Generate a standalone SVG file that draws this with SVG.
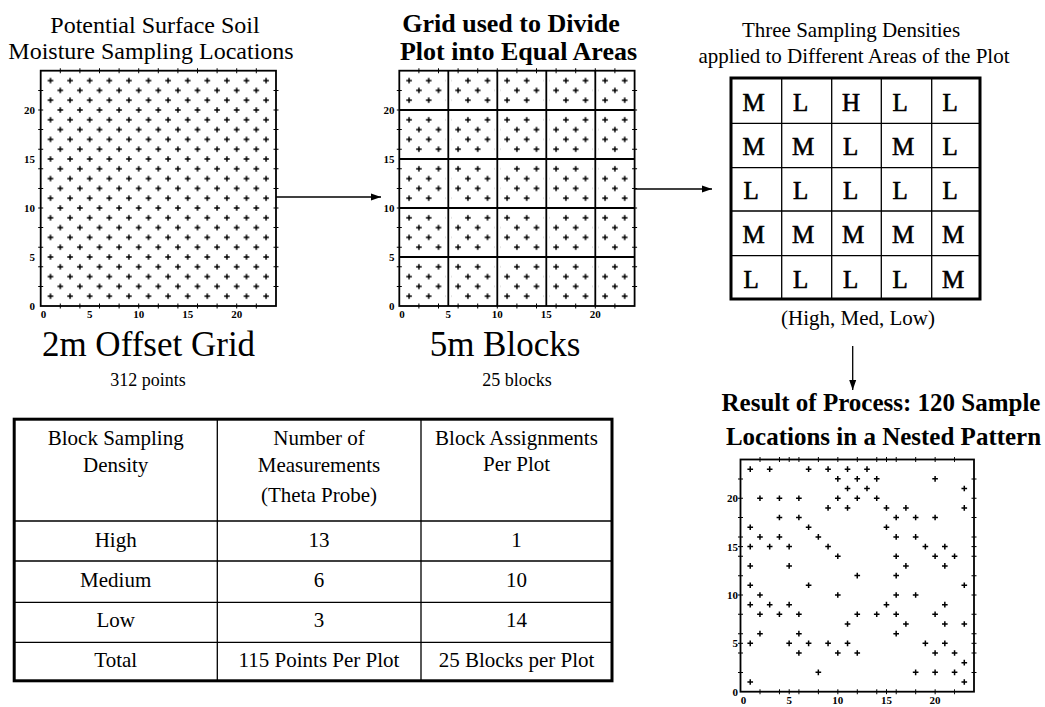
<svg xmlns="http://www.w3.org/2000/svg" xmlns:xlink="http://www.w3.org/1999/xlink" width="1045" height="707" viewBox="0 0 1045 707">
<style>
text{font-family:"Liberation Serif","Times New Roman",serif;fill:#000}
.ax{font-family:"Liberation Sans",Arial,sans-serif;font-size:11px;font-weight:bold}
.t24{font-size:24px}
.t21{font-size:21px}
.b26{font-size:26px;font-weight:bold}
.b25{font-size:25px;font-weight:bold}
.cap{font-size:35px}
.sub{font-size:18px}
.lt{font-size:25px;stroke:#000;stroke-width:.6}
.frame{fill:none;stroke:#000;stroke-width:1.8}
.tk{fill:none;stroke:#000;stroke-width:5;stroke-dasharray:1 18.6}
.tkx{fill:none;stroke:#000;stroke-width:5;stroke-dasharray:1 18.46}
.tky{fill:none;stroke:#000;stroke-width:5;stroke-dasharray:1 18.35}
.tk1{fill:none;stroke:#000;stroke-width:1}
.pt{fill:none;stroke:#000;stroke-width:1.5}
.blk{fill:none;stroke:#000;stroke-width:1.8}
.halo{fill:none;stroke:#fff;stroke-width:6}
.cell{fill:none;stroke:#000;stroke-width:1.3}
.outer{fill:none;stroke:#000;stroke-width:3}
.conn{fill:none;stroke:#000;stroke-width:1.3}
</style>
<defs>
<pattern id="g1" patternUnits="userSpaceOnUse" x="35.8" y="301.1" width="19.6" height="19.6"><path class="pt" d="M2.1 4.9h5.6M4.9 2.1v5.6M11.9 14.7h5.6M14.7 11.9v5.6"/></pattern>
<pattern id="g2" patternUnits="userSpaceOnUse" x="394.4" y="301.1" width="19.6" height="19.6"><path class="pt" d="M2.1 4.9h5.6M4.9 2.1v5.6M11.9 14.7h5.6M14.7 11.9v5.6"/></pattern>
<path id="c3" d="M-.29 0H.29M0-.29V.29" fill="none" stroke="#000" stroke-width="1.5" vector-effect="non-scaling-stroke"/>
<marker id="ah" markerUnits="userSpaceOnUse" markerWidth="11" markerHeight="8" refX="10" refY="4" orient="auto"><path d="M0 .5L10 4L0 7.5z" fill="#000"/></marker>
</defs>
<rect width="1045" height="707" fill="#fff"/>

<g id="panel-offset-grid">
<text class="t24" x="155" y="33" text-anchor="middle">Potential Surface Soil</text>
<text class="t24" x="151" y="59" text-anchor="middle">Moisture Sampling Locations</text>
<rect x="45.6" y="75.7" width="225.4" height="225.4" fill="url(#g1)"/>
<rect class="frame" x="40.7" y="70.7" width="235.3" height="235.3"/>
<path class="tk" d="M59.8 70.7H257M59.8 306H257"/>
<path class="tk" d="M40.7 286.9V89.5M276 286.9V89.5"/>
<g class="ax" text-anchor="end"><text x="35" y="310">0</text><text x="35" y="261">5</text><text x="35" y="212">10</text><text x="35" y="163">15</text><text x="35" y="114">20</text></g>
<g class="ax" text-anchor="middle"><text x="43.5" y="318">0</text><text x="89.7" y="318">5</text><text x="138.7" y="318">10</text><text x="187.7" y="318">15</text><text x="236.7" y="318">20</text></g>
<text class="cap" x="148.5" y="356" text-anchor="middle">2m Offset Grid</text>
<text class="sub" x="148" y="386" text-anchor="middle">312 points</text>
</g>

<g id="panel-blocks">
<text class="b26" x="511" y="32" text-anchor="middle">Grid used to Divide</text>
<text class="b26" x="518.5" y="60" text-anchor="middle">Plot into Equal Areas</text>
<rect x="404.2" y="75.7" width="225.4" height="225.4" fill="url(#g2)"/>
<path class="halo" d="M448.3 72V305M497.3 72V305M546.3 72V305M595.3 72V305M400.5 257H633.5M400.5 208H633.5M400.5 159H633.5M400.5 110H633.5"/>
<path class="blk" d="M448.3 70.7V306M497.3 70.7V306M546.3 70.7V306M595.3 70.7V306M399.3 257H634.6M399.3 208H634.6M399.3 159H634.6M399.3 110H634.6"/>
<rect class="frame" x="399.3" y="70.7" width="235.3" height="235.3"/>
<path class="tk" d="M418.4 70.7H615.6M418.4 306H615.6"/>
<path class="tk" d="M399.3 286.9V89.5M634.6 286.9V89.5"/>
<g class="ax" text-anchor="end"><text x="394.5" y="310">0</text><text x="394.5" y="261">5</text><text x="394.5" y="212">10</text><text x="394.5" y="163">15</text><text x="394.5" y="114">20</text></g>
<g class="ax" text-anchor="middle"><text x="402" y="318">0</text><text x="448.3" y="318">5</text><text x="497.3" y="318">10</text><text x="546.3" y="318">15</text><text x="595.3" y="318">20</text></g>
<text class="cap" x="505" y="356" text-anchor="middle">5m Blocks</text>
<text class="sub" x="517" y="386" text-anchor="middle">25 blocks</text>
</g>

<g id="panel-densities">
<text class="t21" x="851" y="37" text-anchor="middle">Three Sampling Densities</text>
<text class="t21" x="854" y="63" text-anchor="middle">applied to Different Areas of the Plot</text>
<path class="cell" d="M781.7 78V299M831.7 78V299M881.3 78V299M931.7 78V299M731 123.3H980M731 167.7H980M731 211H980M731 255.7H980"/>
<rect class="outer" x="731" y="78" width="249" height="221"/>
<g class="lt">
<text x="742.5" y="111">M</text><text x="793" y="111">L</text><text x="842" y="111">H</text><text x="892.5" y="111">L</text><text x="942.5" y="111">L</text>
<text x="742.5" y="155">M</text><text x="792" y="155">M</text><text x="843" y="155">L</text><text x="892" y="155">M</text><text x="942.5" y="155">L</text>
<text x="743.5" y="198.5">L</text><text x="793" y="198.5">L</text><text x="843" y="198.5">L</text><text x="892.5" y="198.5">L</text><text x="942.5" y="198.5">L</text>
<text x="742.5" y="243.3">M</text><text x="792" y="243.3">M</text><text x="842" y="243.3">M</text><text x="892" y="243.3">M</text><text x="942" y="243.3">M</text>
<text x="743.5" y="288">L</text><text x="793" y="288">L</text><text x="843" y="288">L</text><text x="892.5" y="288">L</text><text x="942" y="288">M</text>
</g>
<text class="t21" x="858" y="325" text-anchor="middle">(High, Med, Low)</text>
</g>

<g id="panel-result">
<text class="b25" x="881" y="411" text-anchor="middle">Result of Process: 120 Sample</text>
<text class="b25" x="883.5" y="445" text-anchor="middle">Locations in a Nested Pattern</text>
<g transform="translate(740.5 691.7) scale(9.73 -9.675)">
<use href="#c3" x="1" y="23"/><use href="#c3" x="3" y="23"/><use href="#c3" x="7" y="23"/><use href="#c3" x="9" y="23"/><use href="#c3" x="11" y="23"/><use href="#c3" x="13" y="23"/>
<use href="#c3" x="10" y="22"/><use href="#c3" x="12" y="22"/><use href="#c3" x="14" y="22"/><use href="#c3" x="20" y="22"/>
<use href="#c3" x="11" y="21"/><use href="#c3" x="13" y="21"/><use href="#c3" x="23" y="21"/>
<use href="#c3" x="2" y="20"/><use href="#c3" x="4" y="20"/><use href="#c3" x="6" y="20"/><use href="#c3" x="10" y="20"/><use href="#c3" x="12" y="20"/><use href="#c3" x="14" y="20"/>
<use href="#c3" x="9" y="19"/><use href="#c3" x="11" y="19"/><use href="#c3" x="15" y="19"/><use href="#c3" x="17" y="19"/><use href="#c3" x="23" y="19"/>
<use href="#c3" x="4" y="18"/><use href="#c3" x="6" y="18"/><use href="#c3" x="16" y="18"/><use href="#c3" x="18" y="18"/><use href="#c3" x="20" y="18"/>
<use href="#c3" x="1" y="17"/><use href="#c3" x="7" y="17"/><use href="#c3" x="15" y="17"/>
<use href="#c3" x="2" y="16"/><use href="#c3" x="4" y="16"/><use href="#c3" x="8" y="16"/><use href="#c3" x="16" y="16"/><use href="#c3" x="18" y="16"/>
<use href="#c3" x="1" y="15"/><use href="#c3" x="3" y="15"/><use href="#c3" x="5" y="15"/><use href="#c3" x="9" y="15"/><use href="#c3" x="19" y="15"/><use href="#c3" x="21" y="15"/>
<use href="#c3" x="10" y="14"/><use href="#c3" x="16" y="14"/><use href="#c3" x="20" y="14"/><use href="#c3" x="22" y="14"/>
<use href="#c3" x="1" y="13"/><use href="#c3" x="5" y="13"/><use href="#c3" x="17" y="13"/><use href="#c3" x="21" y="13"/>
<use href="#c3" x="12" y="12"/><use href="#c3" x="16" y="12"/>
<use href="#c3" x="1" y="11"/><use href="#c3" x="7" y="11"/><use href="#c3" x="23" y="11"/>
<use href="#c3" x="2" y="10"/><use href="#c3" x="10" y="10"/><use href="#c3" x="16" y="10"/><use href="#c3" x="18" y="10"/>
<use href="#c3" x="1" y="9"/><use href="#c3" x="3" y="9"/><use href="#c3" x="5" y="9"/><use href="#c3" x="15" y="9"/><use href="#c3" x="21" y="9"/>
<use href="#c3" x="2" y="8"/><use href="#c3" x="4" y="8"/><use href="#c3" x="6" y="8"/><use href="#c3" x="12" y="8"/><use href="#c3" x="14" y="8"/><use href="#c3" x="16" y="8"/><use href="#c3" x="20" y="8"/>
<use href="#c3" x="11" y="7"/><use href="#c3" x="17" y="7"/><use href="#c3" x="21" y="7"/><use href="#c3" x="23" y="7"/>
<use href="#c3" x="2" y="6"/><use href="#c3" x="6" y="6"/><use href="#c3" x="16" y="6"/>
<use href="#c3" x="1" y="5"/><use href="#c3" x="5" y="5"/><use href="#c3" x="7" y="5"/><use href="#c3" x="9" y="5"/><use href="#c3" x="11" y="5"/><use href="#c3" x="19" y="5"/><use href="#c3" x="21" y="5"/>
<use href="#c3" x="6" y="4"/><use href="#c3" x="10" y="4"/><use href="#c3" x="12" y="4"/><use href="#c3" x="20" y="4"/><use href="#c3" x="22" y="4"/>
<use href="#c3" x="23" y="3"/>
<use href="#c3" x="8" y="2"/><use href="#c3" x="18" y="2"/><use href="#c3" x="20" y="2"/><use href="#c3" x="22" y="2"/>
<use href="#c3" x="1" y="1"/><use href="#c3" x="23" y="1"/>
</g>
<rect class="frame" x="740.5" y="459.5" width="233.5" height="232.2"/>
<path class="tkx" d="M759.5 459.5H955M759.5 691.7H955"/>
<path class="tky" d="M740.5 672.9V470M974 672.9V470"/>
<path class="tk1" d="M789.2 457v5M886.5 457v5M789.2 689.2v5M886.5 689.2v5M738 643.3h5M738 546.6h5M971.5 643.3h5M971.5 546.6h5"/>
<g class="ax" text-anchor="end"><text x="738" y="695.7">0</text><text x="738" y="647.3">5</text><text x="738" y="599">10</text><text x="738" y="550.6">15</text><text x="738" y="502.2">20</text></g>
<g class="ax" text-anchor="middle"><text x="743.5" y="704">0</text><text x="789.2" y="704">5</text><text x="837.8" y="704">10</text><text x="886.5" y="704">15</text><text x="935.1" y="704">20</text></g>
</g>

<g id="table">
<path class="cell" d="M217.3 419.2V680.8M421 419.2V680.8M14.2 521H612M14.2 561H612M14.2 602.3H612M14.2 642.3H612"/>
<rect class="outer" x="14.2" y="419.2" width="597.8" height="261.6"/>
<g class="t21" text-anchor="middle">
<text x="115.7" y="445">Block Sampling</text><text x="115.7" y="471.5">Density</text>
<text x="319" y="445">Number of</text><text x="319" y="471.5">Measurements</text><text x="319" y="501.5">(Theta Probe)</text>
<text x="516.5" y="445">Block Assignments</text><text x="516.5" y="471">Per Plot</text>
<text x="115.7" y="546.7">High</text><text x="319" y="546.7">13</text><text x="516.5" y="546.7">1</text>
<text x="115.7" y="587">Medium</text><text x="319" y="587">6</text><text x="516.5" y="587">10</text>
<text x="115.7" y="626.7">Low</text><text x="319" y="626.7">3</text><text x="516.5" y="626.7">14</text>
<text x="115.7" y="667">Total</text><text x="319" y="667">115 Points Per Plot</text><text x="516.5" y="667">25 Blocks per Plot</text>
</g>
</g>

<g id="connectors">
<path class="conn" marker-end="url(#ah)" d="M276 197H381"/>
<path class="conn" marker-end="url(#ah)" d="M634.6 189H712"/>
<path class="conn" marker-end="url(#ah)" d="M852.7 346V390"/>
</g>
</svg>
